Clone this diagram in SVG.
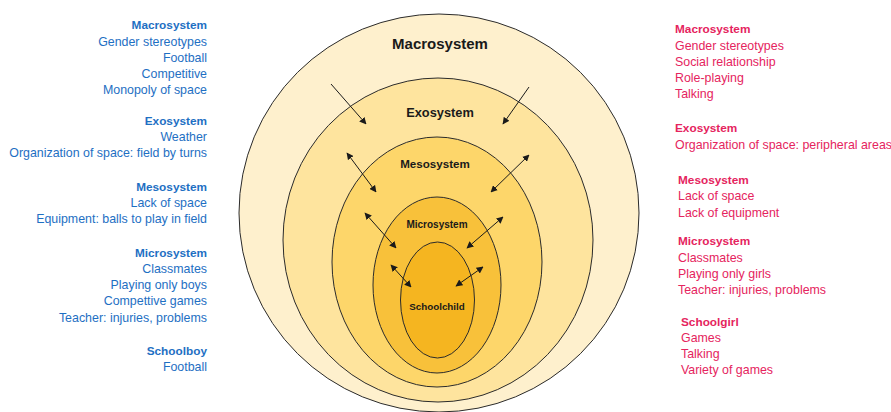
<svg xmlns="http://www.w3.org/2000/svg" width="891" height="412" viewBox="0 0 891 412">
<defs>
<style>
.ring{stroke:#2b2b2b;stroke-width:1}
.lbl{font-family:"Liberation Sans",Arial,sans-serif;font-weight:bold;fill:#1a1a1a;text-anchor:middle}
.side{font-family:"Liberation Sans",Arial,sans-serif;font-size:12.4px}
.hd{font-weight:bold;font-size:11.8px}
.blue{fill:#1E6FC3;text-anchor:end}
.pink{fill:#E5245E;text-anchor:start}
.conn line{stroke:#1a1a1a;stroke-width:1}
</style>
<marker id="ah" viewBox="0 0 10 10" refX="9" refY="5" markerWidth="7" markerHeight="7" markerUnits="userSpaceOnUse" orient="auto-start-reverse">
<path d="M0,0 L10,5 L0,10 z" fill="#1a1a1a"/>
</marker>
</defs>
<rect width="891" height="412" fill="#ffffff"/>

<g id="macrosystem">
<ellipse class="ring" cx="439" cy="213" rx="200" ry="199" fill="#FEF0CD"/>
<text class="lbl" x="440" y="49" font-size="15px">Macrosystem</text>
</g>
<g id="exosystem">
<ellipse class="ring" cx="438" cy="240" rx="155" ry="162" fill="#FEE49E"/>
<text class="lbl" x="440" y="117" font-size="12.8px">Exosystem</text>
</g>
<g id="mesosystem">
<ellipse class="ring" cx="437" cy="262" rx="105" ry="125" fill="#FDD66A"/>
<text class="lbl" x="435" y="168" font-size="11.6px">Mesosystem</text>
</g>
<g id="microsystem">
<ellipse class="ring" cx="437" cy="285" rx="64" ry="88" fill="#F8C13A"/>
<text class="lbl" x="437" y="228" font-size="10px">Microsystem</text>
</g>
<g id="schoolchild">
<ellipse class="ring" cx="437.5" cy="300" rx="37" ry="58" fill="#F5B520"/>
<text class="lbl" x="437" y="310" font-size="9.8px">Schoolchild</text>
</g>

<g id="connectors" class="conn">
<line x1="331" y1="84" x2="366" y2="124" marker-end="url(#ah)"/>
<line x1="529" y1="87" x2="503" y2="124" marker-end="url(#ah)"/>
<line x1="347" y1="153" x2="376" y2="192" marker-start="url(#ah)" marker-end="url(#ah)"/>
<line x1="529" y1="155" x2="491" y2="192" marker-start="url(#ah)" marker-end="url(#ah)"/>
<line x1="365" y1="213" x2="396" y2="248" marker-start="url(#ah)" marker-end="url(#ah)"/>
<line x1="503" y1="217" x2="467" y2="248" marker-start="url(#ah)" marker-end="url(#ah)"/>
<line x1="391" y1="265" x2="411" y2="287" marker-start="url(#ah)" marker-end="url(#ah)"/>
<line x1="483" y1="267" x2="456" y2="286" marker-start="url(#ah)" marker-end="url(#ah)"/>
</g>

<g id="schoolboy-notes" class="side blue">
<text x="207" y="29" class="hd">Macrosystem</text>
<text x="207" y="46">Gender stereotypes</text>
<text x="207" y="62">Football</text>
<text x="207" y="78">Competitive</text>
<text x="207" y="94">Monopoly of space</text>
<text x="207" y="125" class="hd">Exosystem</text>
<text x="207" y="141">Weather</text>
<text x="207" y="157">Organization of space: field by turns</text>
<text x="207" y="191" class="hd">Mesosystem</text>
<text x="207" y="207">Lack of space</text>
<text x="207" y="223">Equipment: balls to play in field</text>
<text x="207" y="257" class="hd">Microsystem</text>
<text x="207" y="273">Classmates</text>
<text x="207" y="289">Playing only boys</text>
<text x="207" y="305">Compettive games</text>
<text x="207" y="322">Teacher: injuries, problems</text>
<text x="207" y="355" class="hd">Schoolboy</text>
<text x="207" y="371">Football</text>
</g>

<g id="schoolgirl-notes" class="side pink">
<text x="675" y="33" class="hd">Macrosystem</text>
<text x="675" y="50">Gender stereotypes</text>
<text x="675" y="66">Social relationship</text>
<text x="675" y="82">Role-playing</text>
<text x="675" y="98">Talking</text>
<text x="675" y="132" class="hd">Exosystem</text>
<text x="675" y="149">Organization of space: peripheral areas</text>
<text x="678" y="184" class="hd">Mesosystem</text>
<text x="678" y="200">Lack of space</text>
<text x="678" y="217">Lack of equipment</text>
<text x="678" y="245" class="hd">Microsystem</text>
<text x="678" y="262">Classmates</text>
<text x="678" y="278">Playing only girls</text>
<text x="678" y="294">Teacher: injuries, problems</text>
<text x="681" y="326" class="hd">Schoolgirl</text>
<text x="681" y="342">Games</text>
<text x="681" y="358">Talking</text>
<text x="681" y="374">Variety of games</text>
</g>
</svg>
